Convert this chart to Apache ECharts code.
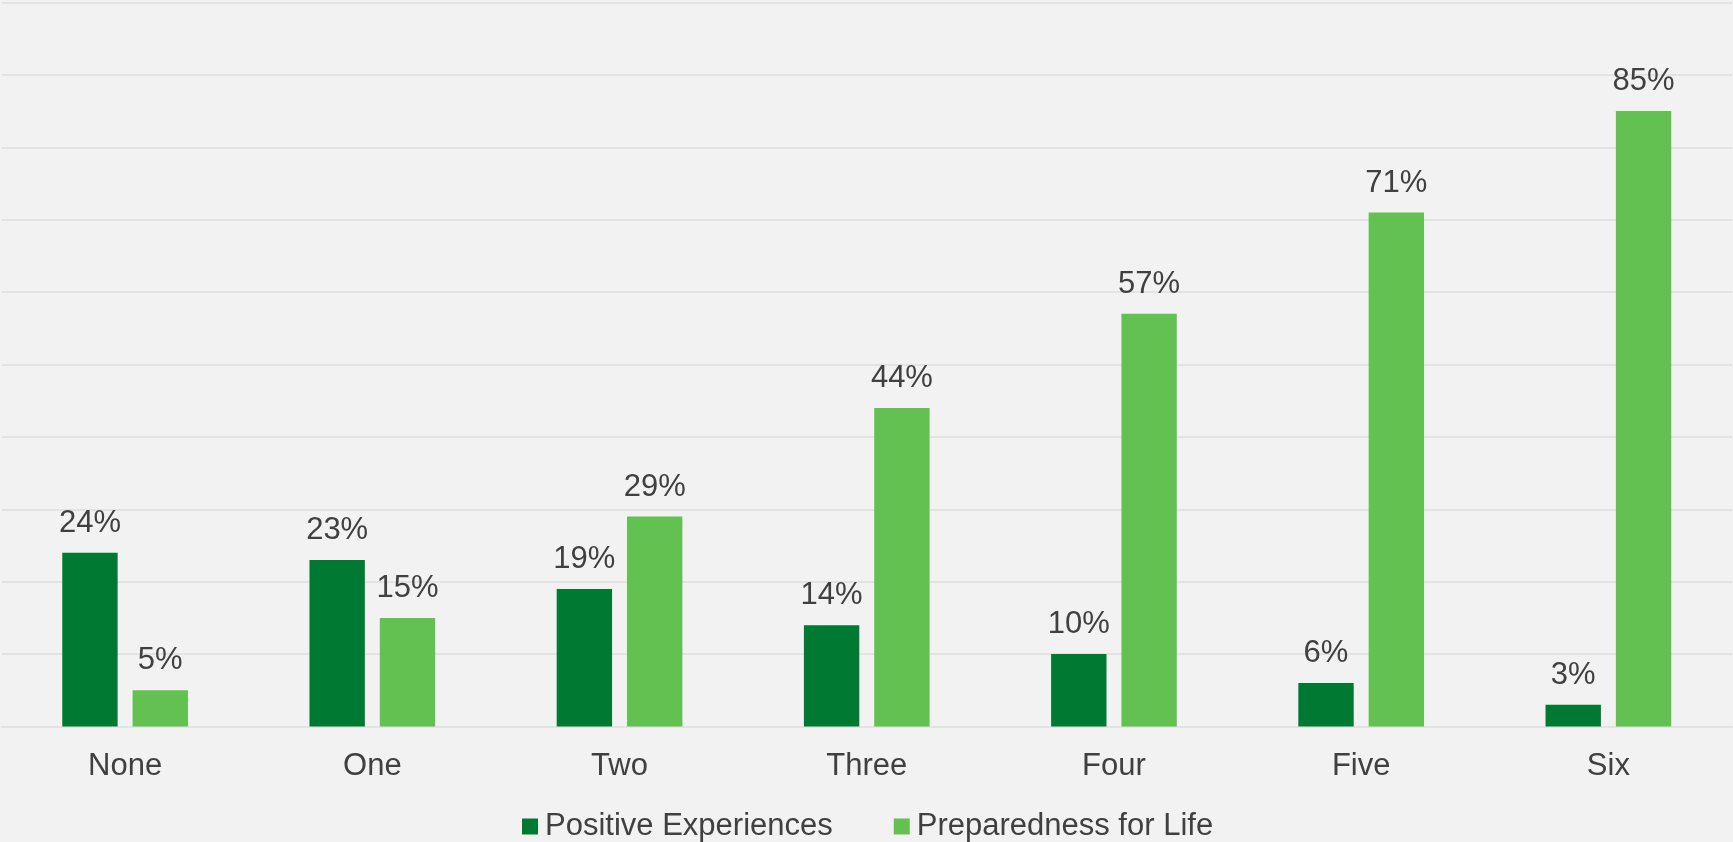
<!DOCTYPE html>
<html>
<head>
<meta charset="utf-8">
<title>Positive Experiences vs Preparedness for Life</title>
<script src="https://cdn.jsdelivr.net/npm/echarts/dist/echarts.min.js"></script>
<style>
  html, body {
    margin: 0;
    padding: 0;
    background: #f2f2f2;
  }
  #chart {
    width: 1733px;
    height: 842px;
  }
</style>
</head>
<body>
<div id="chart"></div>
<script>
// number of positive experiences
const categories = ['None', 'One', 'Two', 'Three', 'Four', 'Five', 'Six']
const positiveExperiences = [24, 23, 19, 14, 10, 6, 3]
const preparedness = [5, 15, 29, 44, 57, 71, 85]
const seriesNames = ['Positive Experiences', 'Preparedness for Life']

const textColor = '#404040'
const fontFamily = "'Liberation Sans', Arial, sans-serif"

function buildSeries() {
  const values = [positiveExperiences, preparedness]
  const colors = ['#007a33', '#62c150']
  return values.map((data, index) => ({
    type: 'bar',
    name: seriesNames[index],
    data: data,
    barWidth: '22.4%',
    barGap: '27%',
    itemStyle: {
      color: colors[index]
    },
    label: {
      show: true,
      position: 'top',
      distance: 14,
      formatter: '{c}%',
      color: textColor,
      fontSize: 31,
      fontFamily: fontFamily
    }
  }))
}

const myChart = echarts.init(document.getElementById('chart'))
const options = {
  backgroundColor: '#f2f2f2',
  animation: false,
  legend: {
    left: 522,
    top: 811,
    padding: 0,
    itemWidth: 16,
    itemHeight: 16,
    itemGap: 61,
    icon: 'rect',
    textStyle: {
      color: textColor,
      fontSize: 31,
      fontFamily: fontFamily,
      padding: [0, 0, 0, 2]
    },
    data: seriesNames
  },
  grid: {
    left: 1.5,
    right: 1,
    top: 2.5,
    bottom: 115.5,
    containLabel: false
  },
  xAxis: {
    type: 'category',
    data: categories,
    axisLine: {
      lineStyle: { color: '#e3e3e3', width: 2 }
    },
    axisTick: { show: false },
    axisLabel: {
      margin: 24,
      color: textColor,
      fontSize: 31,
      fontFamily: fontFamily
    }
  },
  yAxis: {
    type: 'value',
    min: 0,
    max: 100,
    interval: 10,
    axisLabel: { show: false },
    axisLine: { show: false },
    axisTick: { show: false },
    splitLine: {
      lineStyle: { color: '#e3e3e3', width: 2 }
    }
  },
  series: buildSeries()
}
myChart.setOption(options)
</script>
</body>
</html>
